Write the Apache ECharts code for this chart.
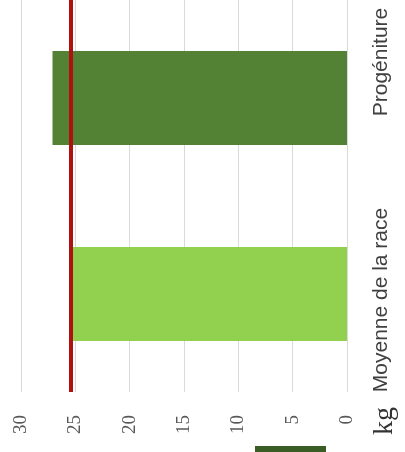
<!DOCTYPE html>
<html><head><meta charset="utf-8">
<script src="https://cdn.jsdelivr.net/npm/echarts@6/dist/echarts.min.js"></script>
<style>html,body{margin:0;padding:0;background:#fff}#c{width:405px;height:452px}</style>
</head><body><div id="c"></div>
<script>
const categories = ['Moyenne de la race', 'Progéniture'];
const values = [25.3, 27.1];
const barColors = ['#92D050', '#548235'];
const referenceLine = 25.4;
const tickMin = 0, tickMax = 30, tickStep = 5;
const unitLabel = 'kg';
const labelPads = { 'Moyenne de la race': [0, 12, 0, 0], 'Progéniture': [0, 0, 0, 72] };

const chart = echarts.init(document.getElementById('c'));
chart.setOption({
  animation: false,
  grid: { left: 21, right: 58, top: 0, bottom: 60 },
  legend: {
    left: 255, top: 446, itemWidth: 71, itemHeight: 14, padding: 0,
    data: [{ name: 'Série', icon: 'rect', itemStyle: { color: '#3A5D26' } }],
    formatter: () => '', selectedMode: false
  },
  graphic: [{
    type: 'text', x: 385, y: 421, rotation: Math.PI / 2,
    style: { text: unitLabel, align: 'center', verticalAlign: 'middle', fontFamily: 'Liberation Serif', fontSize: 28, fill: '#333' }
  }],
  xAxis: {
    type: 'value', inverse: true, min: tickMin, max: tickMax, interval: tickStep,
    axisLine: { show: false }, axisTick: { show: false },
    axisLabel: { rotate: 90, margin: 23, fontFamily: 'Liberation Serif', fontSize: 19, color: '#595959' },
    splitLine: { lineStyle: { color: '#d9d9d9', width: 1 } }
  },
  yAxis: {
    type: 'category', position: 'right', data: categories,
    axisLine: { show: false }, axisTick: { show: false },
    axisLabel: {
      interval: 0, rotate: 90, margin: 24,
      formatter: v => '{' + (v === 'Progéniture' ? 'p' : 'm') + '|' + v + '}',
      rich: {
        p: { padding: labelPads['Progéniture'], fontFamily: 'Liberation Sans', fontSize: 21, color: '#404040' },
        m: { padding: labelPads['Moyenne de la race'], fontFamily: 'Liberation Sans', fontSize: 21, color: '#404040' }
      }
    }
  },
  series: [{
    name: 'Série', type: 'bar', barWidth: '48%',
    data: values.map((v, i) => ({ value: v, itemStyle: { color: barColors[i] } })),
    markLine: {
      silent: true, symbol: 'none', label: { show: false },
      lineStyle: { color: '#B01010', width: 4, type: 'solid' },
      data: [{ xAxis: referenceLine }]
    }
  }]
});
</script></body></html>
